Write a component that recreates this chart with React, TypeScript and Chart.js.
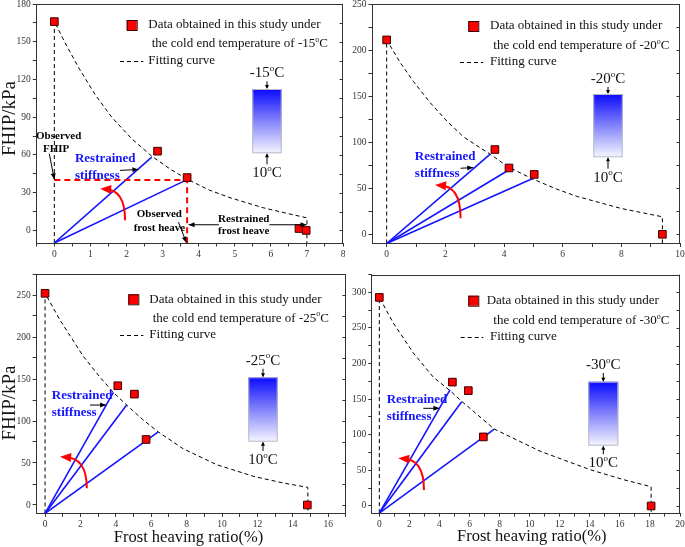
import React, { useEffect, useRef } from 'react';
import { Chart, registerables } from 'chart.js';

Chart.register(...registerables);

type Pt = [number, number];

// ---------------- data ----------------
// -15 °C
const P15_POINTS: Pt[] = [[0, 166], [2.86, 63], [3.68, 42], [6.78, 1.5], [6.98, 0]];
const P15_FIT: Pt[] = [[0, 166], [0.3, 149], [0.66, 130], [1.13, 108], [1.59, 90], [2.14, 73], [2.7, 59], [3.25, 48], [3.7, 40.5], [4.3, 32], [4.87, 26], [5.79, 18], [6.53, 13], [7, 10]];
const P15_STIFF_ENDS: Pt[] = [[2.7, 58.3], [3.65, 40]];
const P15_OBSERVED: Pt[] = [[0, 40], [3.68, 40], [3.68, -10]];

// -20 °C
const P20_POINTS: Pt[] = [[0, 211], [3.69, 92], [4.17, 72], [5.03, 65], [9.4, 0]];
const P20_FIT: Pt[] = [[0, 211], [0.45, 187], [0.91, 166], [1.48, 143], [2.05, 123], [2.61, 106], [3.18, 94], [3.53, 87], [4.15, 73], [4.98, 60], [5.8, 49], [6.5, 41], [8, 28], [9.4, 19]];
const P20_STIFF_ENDS: Pt[] = [[3.53, 87], [4.12, 69], [4.98, 60.5]];

// -25 °C
const P25_POINTS: Pt[] = [[0, 252], [4.11, 142], [5.05, 132], [5.71, 78], [14.82, 0]];
const P25_FIT: Pt[] = [[0, 252], [0.85, 220], [2.16, 177], [3.11, 152], [3.86, 134], [4.61, 119], [5.5, 102], [6.4, 87], [7.8, 67], [9.7, 48], [11.8, 34], [13.5, 26], [14.85, 21]];
const P25_STIFF_ENDS: Pt[] = [[3.86, 134], [4.61, 119], [6.4, 87]];

// -30 °C
const P30_POINTS: Pt[] = [[0, 293], [4.86, 174], [5.92, 162], [6.92, 97], [18.08, 0]];
const P30_FIT: Pt[] = [[0, 293], [0.93, 257], [2.26, 215], [3.59, 181], [4.7, 162], [5.48, 147], [7.65, 108], [10.69, 77], [14.02, 51], [16.24, 37], [18.08, 27]];
const P30_STIFF_ENDS: Pt[] = [[4.7, 163], [5.48, 146.5], [7.65, 108]];

const STIFF_ORIGIN: Pt = [0, -10];

const TEMPS = ['-15', '-20', '-25', '-30'];
const WARM_END = '10';
const LEGEND_LINE1 = 'Data obtained in this study under';
const LEGEND_LINE2 = 'the cold end temperature of ';
const LEGEND_FIT = 'Fitting curve';
const Y_TITLE = 'FHIP/kPa';
const X_TITLE = 'Frost heaving ratio(%)';

// ---------------- styles ----------------
const SERIF = "'Liberation Serif', 'Times New Roman', serif";
const RED = '#ff0000';
const BLUE = '#1414ff';
const AXIS = '#333333';

interface Note { text: string; x: number; y: number; size: number; color: string; align: CanvasTextAlign; }
interface Arrow { from: Pt; to: Pt; }
interface Panel {
  temp: string;
  box: { left: number; top: number; w: number; h: number };
  area: { left: number; right: number; top: number; bottom: number };
  x: { min: number; max: number; major: number; minor: number };
  y: { min: number; max: number; major: number; minor: number };
  points: Pt[]; fit: Pt[]; stiff: Pt[]; observed?: Pt[];
  notes: Note[]; arrows: Arrow[]; arc: { bottom: Pt; tip: Pt };
  legend: { sq: Pt; text: Pt; line2: Pt; dash: [number, number, number]; fit: Pt };
  bar: { x1: number; x2: number; y1: number; y2: number; top: number; bot: number };
  yTitle?: Pt; xTitle?: Pt;
}

const bold = (text: string, x: number, y: number, size: number, color: string, align: CanvasTextAlign): Note => ({ text, x, y, size, color, align });

const PANELS: Panel[] = [
  {
    temp: TEMPS[0],
    box: { left: 0, top: 0, w: 345, h: 270 },
    area: { left: 36.3, right: 343, top: 4, bottom: 243 },
    x: { min: -0.5, max: 8, major: 1, minor: 0.5 },
    y: { min: -10, max: 180, major: 30, minor: 15 },
    points: P15_POINTS, fit: P15_FIT, stiff: P15_STIFF_ENDS, observed: P15_OBSERVED,
    notes: [
      bold('Observed', 0.12, 75, 11, '#000', 'center'),
      bold('FHIP', 0.05, 64.5, 11, '#000', 'center'),
      bold('Restrained', 0.57, 57.3, 13, BLUE, 'left'),
      bold('stiffness', 0.57, 43.8, 13, BLUE, 'left'),
      bold('Observed', 2.91, 13.3, 11, '#000', 'center'),
      bold('frost heave', 2.91, 1.8, 11, '#000', 'center'),
      bold('Restrained', 5.25, 9.3, 11, '#000', 'center'),
      bold('frost heave', 5.25, -0.8, 11, '#000', 'center'),
    ],
    arrows: [
      { from: [-0.14, 61], to: [0, 40.5] },
      { from: [1.82, 47.7], to: [2.33, 48.5] },
      { from: [3.44, 6.6], to: [3.66, -9.8] },
      { from: [4.56, 4.5], to: [3.72, 4.5] },
      { from: [5.96, 4.5], to: [6.99, 4.5] },
    ],
    arc: { bottom: [1.96, 8], tip: [1.27, 33.2] },
    legend: { sq: [95.4, 21], text: [112, 21], line2: [115.4, 40], dash: [83.7, 107, 57], fit: [112, 57] },
    bar: { x1: 216, x2: 245.4, y1: 85, y2: 149.3, top: 69.3, bot: 169.3 },
    yTitle: [10, 118.5],
  },
  {
    temp: TEMPS[1],
    box: { left: 345, top: 0, w: 340, h: 270 },
    area: { left: 372, right: 680, top: 4, bottom: 243.5 },
    x: { min: -0.5, max: 10, major: 2, minor: 1 },
    y: { min: -10, max: 250, major: 50, minor: 25 },
    points: P20_POINTS, fit: P20_FIT, stiff: P20_STIFF_ENDS,
    notes: [
      bold('Restrained', 0.96, 84.3, 13, BLUE, 'left'),
      bold('stiffness', 0.96, 66.3, 13, BLUE, 'left'),
    ],
    arrows: [{ from: [2.52, 71.7], to: [2.95, 72.4] }],
    arc: { bottom: [2.52, 17.4], tip: [1.65, 53.6] },
    legend: { sq: [101.3, 22], text: [118, 22], line2: [121.3, 42], dash: [88, 111.3, 58], fit: [118, 58] },
    bar: { x1: 221.3, x2: 250.7, y1: 90, y2: 153.3, top: 75, bot: 173.7 },
  },
  {
    temp: TEMPS[2],
    box: { left: 0, top: 270, w: 350, h: 277 },
    area: { left: 36.2, right: 345.9, top: 274, bottom: 513.4 },
    x: { min: -0.5, max: 17, major: 2, minor: 1 },
    y: { min: -10, max: 275, major: 50, minor: 25 },
    points: P25_POINTS, fit: P25_FIT, stiff: P25_STIFF_ENDS,
    notes: [
      bold('Restrained', 0.38, 129.8, 13, BLUE, 'left'),
      bold('stiffness', 0.38, 109.9, 13, BLUE, 'left'),
    ],
    arrows: [{ from: [2.54, 119], to: [3.45, 119] }],
    arc: { bottom: [2.36, 19.9], tip: [0.85, 57.5] },
    legend: { sq: [97.1, 25.3], text: [113.1, 25.3], line2: [116.5, 44.3], dash: [83.8, 107.1, 61], fit: [113.1, 61] },
    bar: { x1: 212.1, x2: 241.5, y1: 103.3, y2: 167.7, top: 86.7, bot: 186 },
    yTitle: [10, 403],
    xTitle: [188.5, 538],
  },
  {
    temp: TEMPS[3],
    box: { left: 345, top: 270, w: 340, h: 277 },
    area: { left: 371.8, right: 680, top: 274.6, bottom: 513.1 },
    x: { min: -0.5, max: 20, major: 2, minor: 1 },
    y: { min: -10, max: 325, major: 50, minor: 25 },
    points: P30_POINTS, fit: P30_FIT, stiff: P30_STIFF_ENDS,
    notes: [
      bold('Restrained', 0.49, 149.9, 13, BLUE, 'left'),
      bold('stiffness', 0.49, 125.4, 13, BLUE, 'left'),
    ],
    arrows: [{ from: [2.93, 137.2], to: [4.0, 137.2] }],
    arc: { bottom: [2.97, 22.5], tip: [1.26, 67] },
    legend: { sq: [101.5, 26.1], text: [114.9, 26.1], line2: [121.5, 46.1], dash: [88.9, 111.5, 62.1], fit: [118.2, 62.1] },
    bar: { x1: 216.5, x2: 246.5, y1: 107.1, y2: 171.1, top: 90.4, bot: 188.7 },
    xTitle: [531.7, 537],
  },
];

const toXY = (pts: Pt[]) => pts.map(([x, y]) => ({ x, y }));

function arrowHead(ctx: CanvasRenderingContext2D, x1: number, y1: number, x2: number, y2: number, len: number, hw: number) {
  const a = Math.atan2(y2 - y1, x2 - x1);
  const c = Math.cos(a), s = Math.sin(a);
  ctx.beginPath();
  ctx.moveTo(x2, y2);
  ctx.lineTo(x2 - len * c + hw * s, y2 - len * s - hw * c);
  ctx.lineTo(x2 - len * c - hw * s, y2 - len * s + hw * c);
  ctx.closePath();
  ctx.fill();
}

// draws  before + superscript "o" + "C"
function degText(ctx: CanvasRenderingContext2D, before: string, x: number, y: number, size: number, align: 'left' | 'center') {
  const big = `${size}px ${SERIF}`;
  const small = `${Math.round(size * 0.62)}px ${SERIF}`;
  ctx.font = big;
  const w1 = ctx.measureText(before).width;
  const w3 = ctx.measureText('C').width;
  ctx.font = small;
  const w2 = ctx.measureText('o').width;
  const total = w1 + w2 + w3;
  let x0 = align === 'center' ? x - total / 2 : x;
  ctx.textAlign = 'left';
  ctx.textBaseline = 'middle';
  ctx.font = big;
  ctx.fillText(before, x0, y);
  ctx.font = small;
  ctx.fillText('o', x0 + w1, y - size * 0.32);
  ctx.font = big;
  ctx.fillText('C', x0 + w1 + w2, y);
}

function makePlugin(p: Panel) {
  return {
    id: 'annotations',
    afterDatasetsDraw(chart: any) {
      const ctx: CanvasRenderingContext2D = chart.ctx;
      const ca = chart.chartArea;
      const xs = chart.scales.x;
      const ys = chart.scales.y;
      const X = (v: number) => xs.getPixelForValue(v);
      const Y = (v: number) => ys.getPixelForValue(v);
      ctx.save();

      // top and right frame + inward right ticks
      ctx.strokeStyle = AXIS;
      ctx.lineWidth = 1;
      ctx.beginPath();
      ctx.moveTo(ca.left, Math.round(ca.top) + 0.5);
      ctx.lineTo(ca.right, Math.round(ca.top) + 0.5);
      ctx.moveTo(Math.round(ca.right) - 0.5, ca.top);
      ctx.lineTo(Math.round(ca.right) - 0.5, ca.bottom);
      ys.ticks.forEach((t: any) => {
        const yy = Math.round(Y(t.value)) + 0.5;
        ctx.moveTo(ca.right, yy);
        ctx.lineTo(ca.right - 3.5, yy);
      });
      ctx.stroke();

      // red curved arrow
      const bx = X(p.arc.bottom[0]), by = Y(p.arc.bottom[1]);
      const tx = X(p.arc.tip[0]), ty = Y(p.arc.tip[1]);
      const cx = bx, cy = ty;
      ctx.strokeStyle = RED;
      ctx.fillStyle = RED;
      ctx.lineWidth = 2;
      ctx.beginPath();
      ctx.moveTo(bx, by);
      ctx.quadraticCurveTo(cx, cy, tx + 4, ty + 0.5);
      ctx.stroke();
      arrowHead(ctx, cx, cy + 2, tx, ty, 11, 4.5);

      // black small arrows
      ctx.strokeStyle = '#000';
      ctx.fillStyle = '#000';
      ctx.lineWidth = 1;
      p.arrows.forEach(a => {
        const x1 = X(a.from[0]), y1 = Y(a.from[1]), x2 = X(a.to[0]), y2 = Y(a.to[1]);
        ctx.beginPath();
        ctx.moveTo(x1, y1);
        ctx.lineTo(x2, y2);
        ctx.stroke();
        arrowHead(ctx, x1, y1, x2, y2, 6, 2.5);
      });

      // annotation texts
      ctx.textBaseline = 'middle';
      p.notes.forEach(n => {
        ctx.font = `bold ${n.size}px ${SERIF}`;
        ctx.fillStyle = n.color;
        ctx.textAlign = n.align;
        ctx.fillText(n.text, X(n.x), Y(n.y));
      });

      // legend
      const L = p.legend;
      const ox = ca.left, oy = ca.top;
      ctx.fillStyle = RED;
      ctx.strokeStyle = '#3a0000';
      ctx.lineWidth = 1;
      ctx.fillRect(ox + L.sq[0] - 5, oy + L.sq[1] - 5, 10, 10);
      ctx.strokeRect(ox + L.sq[0] - 5 + 0.5, oy + L.sq[1] - 5 + 0.5, 10, 10);
      ctx.fillStyle = '#111';
      ctx.font = `13px ${SERIF}`;
      ctx.textAlign = 'left';
      ctx.fillText(LEGEND_LINE1, ox + L.text[0], oy + L.text[1]);
      degText(ctx, LEGEND_LINE2 + p.temp, ox + L.line2[0], oy + L.line2[1], 13, 'left');
      ctx.font = `13px ${SERIF}`;
      ctx.fillText(LEGEND_FIT, ox + L.fit[0], oy + L.fit[1]);
      ctx.strokeStyle = '#000';
      ctx.setLineDash([4, 3]);
      ctx.beginPath();
      ctx.moveTo(ox + L.dash[0], Math.round(oy + L.dash[2]) + 0.5);
      ctx.lineTo(ox + L.dash[1], Math.round(oy + L.dash[2]) + 0.5);
      ctx.stroke();
      ctx.setLineDash([]);

      // gradient sample bar
      const B = p.bar;
      const gx1 = ox + B.x1, gx2 = ox + B.x2, gy1 = oy + B.y1, gy2 = oy + B.y2;
      const grad = ctx.createLinearGradient(0, gy1, 0, gy2);
      grad.addColorStop(0, '#0a0aff');
      grad.addColorStop(0.45, '#7777fb');
      grad.addColorStop(1, '#f6f6ff');
      ctx.fillStyle = grad;
      ctx.fillRect(gx1, gy1, gx2 - gx1, gy2 - gy1);
      ctx.strokeStyle = '#b8b8c8';
      ctx.strokeRect(gx1 + 0.5, gy1 + 0.5, gx2 - gx1 - 1, gy2 - gy1 - 1);
      const mid = (gx1 + gx2) / 2;
      ctx.strokeStyle = '#000';
      ctx.fillStyle = '#000';
      ctx.beginPath();
      ctx.moveTo(mid, oy + B.top + 8); ctx.lineTo(mid, gy1 - 1);
      ctx.moveTo(mid, oy + B.bot - 9); ctx.lineTo(mid, gy2 + 1);
      ctx.stroke();
      arrowHead(ctx, mid, oy + B.top + 8, mid, gy1, 4, 2);
      arrowHead(ctx, mid, oy + B.bot - 9, mid, gy2, 4, 2);
      ctx.fillStyle = '#111';
      degText(ctx, p.temp, mid, oy + B.top, 15, 'center');
      degText(ctx, WARM_END, mid, oy + B.bot, 15, 'center');

      // axis titles (page coordinates)
      ctx.fillStyle = '#111';
      if (p.yTitle) {
        ctx.save();
        ctx.translate(p.yTitle[0] - p.box.left, p.yTitle[1] - p.box.top);
        ctx.rotate(-Math.PI / 2);
        ctx.font = `19px ${SERIF}`;
        ctx.textAlign = 'center';
        ctx.textBaseline = 'middle';
        ctx.fillText(Y_TITLE, 0, 0);
        ctx.restore();
      }
      if (p.xTitle) {
        ctx.font = `16.5px ${SERIF}`;
        ctx.textAlign = 'center';
        ctx.textBaseline = 'middle';
        ctx.fillText(X_TITLE, p.xTitle[0] - p.box.left, p.xTitle[1] - p.box.top);
      }
      ctx.restore();
    },
  };
}

function axisOpts(range: { min: number; max: number; major: number; minor: number }, fit: (s: any) => void) {
  return {
    type: 'linear' as const,
    min: range.min,
    max: range.max,
    afterFit: (s: any) => {
      fit(s);
      s.paddingLeft = 0; s.paddingRight = 0; s.paddingTop = 0; s.paddingBottom = 0;
    },
    ticks: {
      stepSize: range.minor,
      includeBounds: false,
      autoSkip: false,
      maxRotation: 0,
      minRotation: 0,
      padding: 2,
      color: '#333',
      font: { family: SERIF, size: 9.5 },
      callback: (v: number) => {
        const r = v / range.major;
        return Math.abs(r - Math.round(r)) < 1e-6 ? String(Math.round(v)) : '';
      },
    },
    grid: { drawOnChartArea: false, drawTicks: true, tickLength: 3.5, color: AXIS, tickColor: AXIS, lineWidth: 1 },
    border: { display: true, color: AXIS, width: 1 },
  };
}

function makeChart(canvas: HTMLCanvasElement, p: Panel) {
  const rel = {
    left: p.area.left - p.box.left,
    right: p.area.right - p.box.left,
    top: p.area.top - p.box.top,
    bottom: p.area.bottom - p.box.top,
  };
  const lastFit = p.fit[p.fit.length - 1];
  const fitLine: Pt[] = [[p.fit[0][0], p.y.min], ...p.fit, [lastFit[0], p.y.min]];
  const datasets: any[] = [
    {
      data: toXY(p.points), showLine: false, pointStyle: 'rect', pointRadius: 5.4,
      backgroundColor: RED, borderColor: '#3a0000', borderWidth: 1,
    },
  ];
  if (p.observed) {
    datasets.push({ data: toXY(p.observed), showLine: true, borderColor: RED, borderWidth: 2, borderDash: [6, 4], pointRadius: 0 });
  }
  p.stiff.forEach(end => {
    datasets.push({ data: toXY([STIFF_ORIGIN, end]), showLine: true, borderColor: BLUE, borderWidth: 1.6, pointRadius: 0 });
  });
  datasets.push({ data: toXY(fitLine), showLine: true, borderColor: '#000', borderWidth: 1, borderDash: [4, 3], pointRadius: 0, tension: 0 });

  return new Chart(canvas, {
    type: 'scatter',
    data: { datasets },
    options: {
      animation: false,
      responsive: false,
      maintainAspectRatio: false,
      events: [],
      layout: { padding: { left: 0, top: rel.top, right: p.box.w - rel.right, bottom: 0 }, autoPadding: false } as any,
      plugins: { legend: { display: false }, tooltip: { enabled: false } },
      scales: {
        x: axisOpts(p.x, (s) => { s.height = p.box.h - rel.bottom; }) as any,
        y: axisOpts(p.y, (s) => { s.width = rel.left; }) as any,
      },
    },
    plugins: [makePlugin(p)],
  });
}

export default function App() {
  const refs = useRef<(HTMLCanvasElement | null)[]>([]);
  useEffect(() => {
    const charts = PANELS.map((p, i) => makeChart(refs.current[i] as HTMLCanvasElement, p));
    return () => charts.forEach(c => c.destroy());
  }, []);
  return (
    <div style={{ position: 'absolute', left: 0, top: 0, width: 685, height: 547, background: '#fff', overflow: 'hidden' }}>
      {PANELS.map((p, i) => (
        <canvas
          key={i}
          ref={el => { refs.current[i] = el; }}
          width={p.box.w}
          height={p.box.h}
          style={{ position: 'absolute', left: p.box.left, top: p.box.top, width: p.box.w, height: p.box.h }}
        />
      ))}
    </div>
  );
}
